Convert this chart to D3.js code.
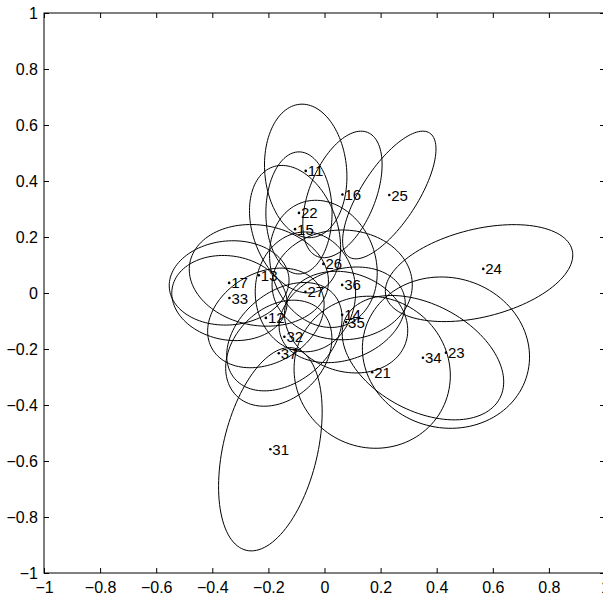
<!DOCTYPE html>
<html>
<head>
<meta charset="utf-8">
<script src="https://cdn.jsdelivr.net/npm/d3@7"></script>
<style>
  body { margin: 0; background: #fff; }
  svg { display: block; }
  text { font-family: "Liberation Sans", Arial, Helvetica, sans-serif; fill: #000; }
</style>
</head>
<body>
<svg id="chart" width="603" height="596"></svg>
<script>
// point labels and positions (data units)
const labels = ["11","16","25","22","15","26","13","17","33","27","36","12","14","35","32","37","21","34","23","24","31"];
const px = [-0.067, 0.064, 0.231, -0.091, -0.105, -0.004, -0.234, -0.340, -0.339, -0.068, 0.063, -0.209, 0.063, 0.077, -0.143, -0.163, 0.170, 0.351, 0.433, 0.566, -0.193];
const py = [0.436, 0.352, 0.350, 0.286, 0.228, 0.104, 0.063, 0.036, -0.018, 0.004, 0.029, -0.089, -0.078, -0.104, -0.156, -0.215, -0.283, -0.231, -0.213, 0.086, -0.558];

// ellipse centres (data units), semi-axes and orientation of the major axis (degrees)
const ecx = [-0.067, 0.064, 0.231, -0.091, -0.105, -0.004, -0.234, -0.340, -0.339, -0.068, 0.063, -0.209, 0.063, 0.077, -0.143, -0.163, 0.170, 0.351, 0.433, 0.551, -0.193];
const ecy = [0.436, 0.352, 0.350, 0.286, 0.228, 0.104, 0.063, 0.036, -0.018, 0.004, 0.029, -0.089, -0.078, -0.104, -0.156, -0.215, -0.283, -0.231, -0.213, 0.071, -0.558];
const semiA = [0.239, 0.239, 0.264, 0.218, 0.236, 0.232, 0.250, 0.214, 0.207, 0.214, 0.250, 0.221, 0.232, 0.225, 0.232, 0.214, 0.282, 0.310, 0.300, 0.342, 0.371];
const semiB = [0.146, 0.118, 0.100, 0.118, 0.150, 0.186, 0.179, 0.150, 0.150, 0.179, 0.196, 0.161, 0.161, 0.175, 0.161, 0.161, 0.268, 0.190, 0.268, 0.157, 0.168];
const angle = [95, 68, 57, 90, 110, -70, -10, 5, -10, 90, 0, 30, 20, -20, 40, 45, -30, -28, -15, 13.9, 76.6];

const xTicks = [-1, -0.8, -0.6, -0.4, -0.2, 0, 0.2, 0.4, 0.6, 0.8, 1];
const yTicks = [-1, -0.8, -0.6, -0.4, -0.2, 0, 0.2, 0.4, 0.6, 0.8, 1];

const svg = d3.select("#chart");
const x = d3.scaleLinear().domain([-1, 1]).range([44, 605]);
const y = d3.scaleLinear().domain([-1, 1]).range([573, 13]);
const fmt = d => d === 0 ? "0" : String(d).replace("-", "\u2212");

// ellipses
const line = d3.line().x(d => x(d[0])).y(d => y(d[1])).curve(d3.curveCardinalClosed);
const ts = d3.range(0, 360, 3).map(t => t * Math.PI / 180);
labels.forEach((lab, i) => {
    const th = angle[i] * Math.PI / 180;
    const pts = ts.map(t => {
        const u = semiA[i] * Math.cos(t), v = semiB[i] * Math.sin(t);
        return [ecx[i] + u * Math.cos(th) - v * Math.sin(th), ecy[i] + u * Math.sin(th) + v * Math.cos(th)];
    });
    svg.append("path")
        .attr("d", line(pts))
        .attr("fill", "none")
        .attr("stroke", "#000")
        .attr("stroke-width", 1);
});

// points + labels
const g = svg.append("g");
labels.forEach((lab, i) => {
    g.append("circle").attr("cx", x(px[i])).attr("cy", y(py[i])).attr("r", 1.3).attr("fill", "#000");
    g.append("text").attr("x", x(px[i]) + 2).attr("y", y(py[i]) + 5.5)
        .style("font-size", "15px").text(lab);
});

// axes box, inward ticks like matlab
const tk = 5;
svg.append("rect").attr("x", x(-1)).attr("y", y(1)).attr("width", x(1) - x(-1)).attr("height", y(-1) - y(1))
    .attr("fill", "none").attr("stroke", "#000").attr("stroke-width", 1);

svg.append("g").attr("transform", `translate(0,${y(-1)})`)
    .call(d3.axisBottom(x).tickValues(xTicks).tickSize(-tk).tickPadding(9).tickFormat(fmt))
    .call(a => a.select(".domain").remove())
    .call(a => a.selectAll("text").style("font-size", "16px").style("font-family", null));
svg.append("g").attr("transform", `translate(0,${y(1)})`)
    .call(d3.axisTop(x).tickValues(xTicks).tickSize(-tk).tickFormat(""))
    .call(a => a.select(".domain").remove());
svg.append("g").attr("transform", `translate(${x(-1)},0)`)
    .call(d3.axisLeft(y).tickValues(yTicks).tickSize(-tk).tickPadding(6).tickFormat(fmt))
    .call(a => a.select(".domain").remove())
    .call(a => a.selectAll("text").style("font-size", "16px").style("font-family", null));
svg.append("g").attr("transform", `translate(${x(1)},0)`)
    .call(d3.axisRight(y).tickValues(yTicks).tickSize(-tk).tickFormat(""))
    .call(a => a.select(".domain").remove());
</script>
</body>
</html>
